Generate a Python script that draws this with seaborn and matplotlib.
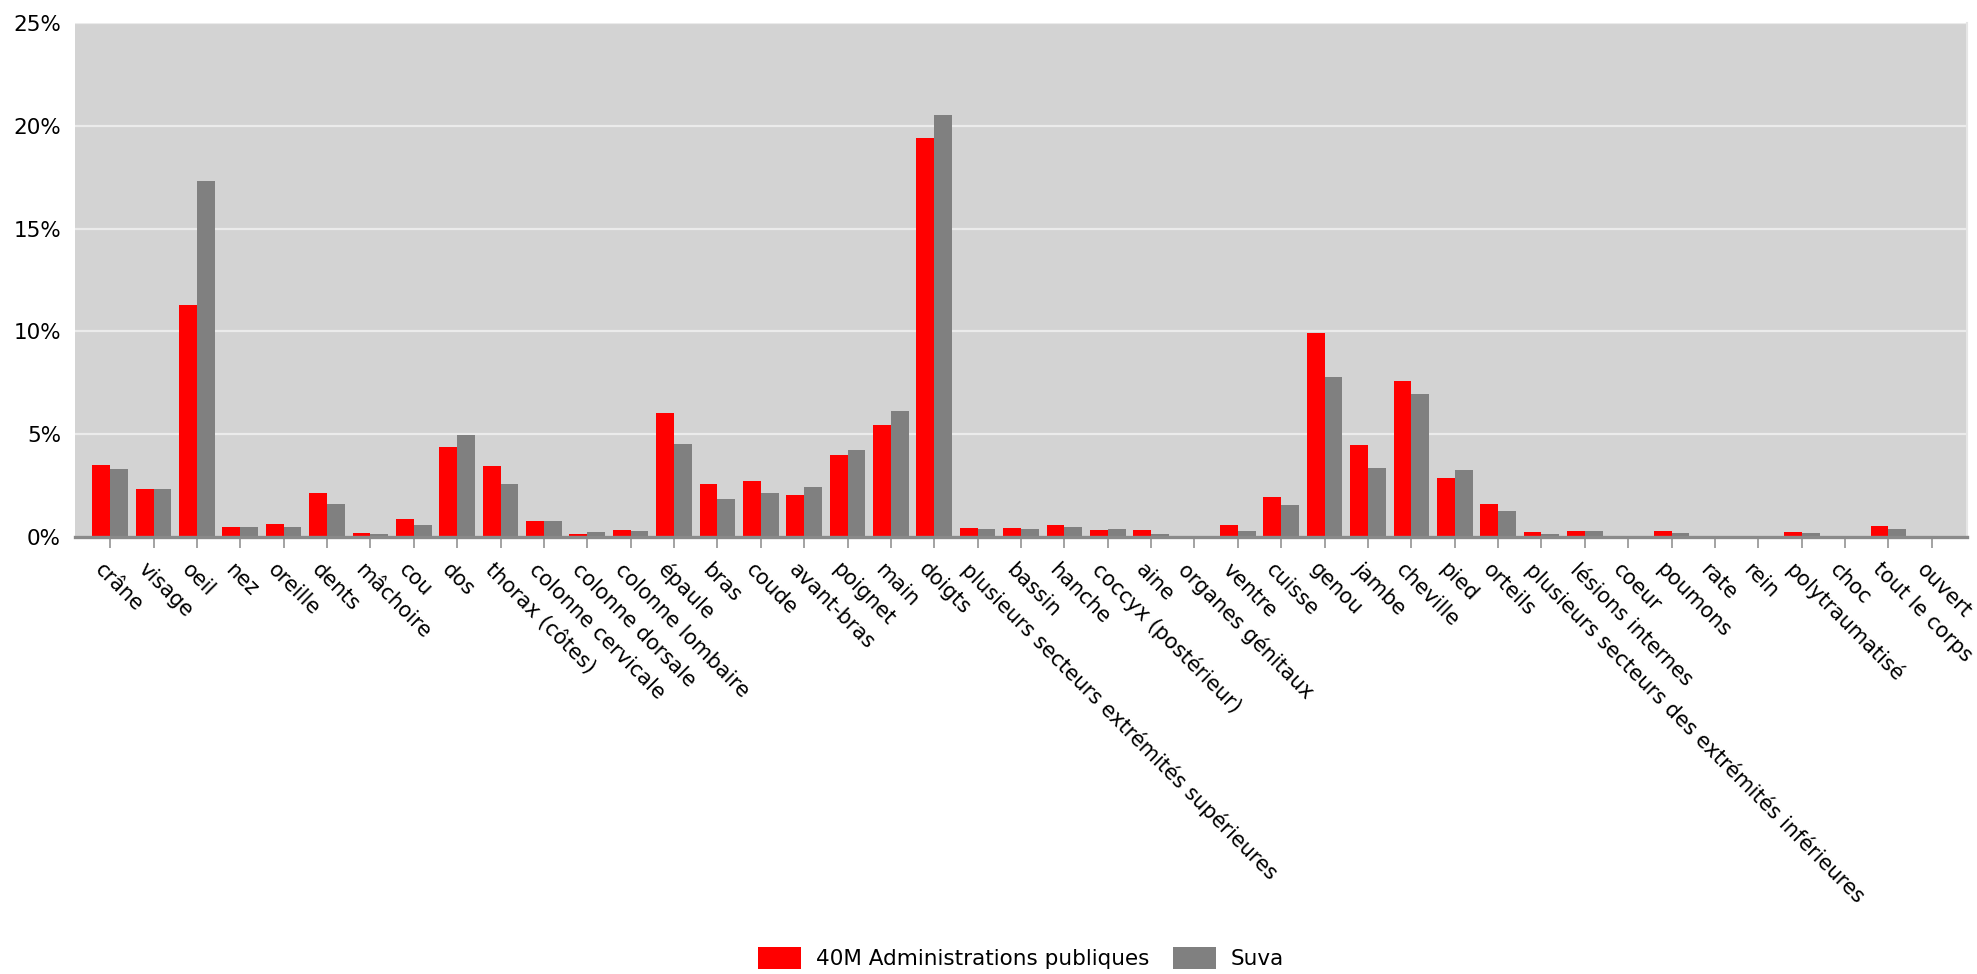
import pandas as pd
import matplotlib
matplotlib.use("Agg")
import matplotlib.pyplot as plt
import matplotlib.transforms as mtransforms
import seaborn as sns
from matplotlib.ticker import FuncFormatter

# categories (body parts)
categories = [
    "crâne", "visage", "oeil", "nez", "oreille", "dents", "mâchoire", "cou",
    "dos", "thorax (côtes)", "colonne cervicale", "colonne dorsale",
    "colonne lombaire", "épaule", "bras", "coude", "avant-bras", "poignet",
    "main", "doigts", "plusieurs secteurs extrémités supérieures", "bassin",
    "hanche", "coccyx (postérieur)", "aine", "organes génitaux", "ventre",
    "cuisse", "genou", "jambe", "cheville", "pied", "orteils",
    "plusieurs secteurs des extrémités inférieures", "lésions internes",
    "coeur", "poumons", "rate", "rein", "polytraumatisé", "choc",
    "tout le corps", "ouvert",
]

# shares in %
admin_40m = [
    3.48, 2.33, 11.27, 0.47, 0.63, 2.13, 0.19, 0.87,
    4.36, 3.47, 0.78, 0.17,
    0.35, 6.01, 2.60, 2.72, 2.02, 3.97,
    5.44, 19.39, 0.42, 0.44,
    0.56, 0.33, 0.33, 0.07, 0.57,
    1.95, 9.91, 4.46, 7.58, 2.87, 1.60,
    0.26, 0.31,
    0.0, 0.31, 0.0, 0.0, 0.23, 0.0,
    0.52, 0.0,
]
suva = [
    3.29, 2.33, 17.33, 0.51, 0.47, 1.60, 0.14, 0.56,
    4.95, 2.58, 0.80, 0.26,
    0.31, 4.53, 1.86, 2.14, 2.42, 4.22,
    6.11, 20.51, 0.37, 0.40,
    0.47, 0.38, 0.16, 0.05, 0.31,
    1.57, 7.77, 3.38, 6.97, 3.28, 1.25,
    0.17, 0.31,
    0.0, 0.21, 0.0, 0.0, 0.19, 0.07,
    0.40, 0.07,
]

series_names = ["40M Administrations publiques", "Suva"]
colors = {"40M Administrations publiques": "#ff0000", "Suva": "#808080"}

df = pd.DataFrame({
    "categorie": categories * 2,
    "valeur": admin_40m + suva,
    "serie": [series_names[0]] * len(categories) + [series_names[1]] * len(categories),
})

plt.rcParams["font.family"] = ["DejaVu Sans"]
fig = plt.figure(figsize=(19.77, 9.74), dpi=100)
ax = fig.add_axes([75 / 1977, 1 - 537 / 974, (1967 - 75) / 1977, (537 - 23) / 974])

sns.barplot(data=df, x="categorie", y="valeur", hue="serie", palette=colors,
            width=0.82, linewidth=0, saturation=1, ax=ax)

ax.set_facecolor("#d3d3d3")
ax.set_ylim(0, 25)
ax.set_xlim(-0.81, len(categories) - 1 + 0.81)
ax.set_yticks([0, 5, 10, 15, 20, 25])
ax.yaxis.set_major_formatter(FuncFormatter(lambda v, p: f"{v:.0f}%"))
ax.grid(axis="y", color="#ebebeb", linewidth=1.6)
ax.grid(axis="x", visible=False)
ax.set_axisbelow(True)

for side in ["left", "top"]:
    ax.spines[side].set_visible(False)
ax.spines["right"].set_color("#e6e6e6")
ax.spines["right"].set_linewidth(1.5)
ax.spines["bottom"].set_color("#8a8a8a")
ax.spines["bottom"].set_linewidth(2.4)

ax.tick_params(axis="y", length=0, pad=10, labelsize=15.5)
ax.tick_params(axis="x", length=8, width=1.1, color="#8a8a8a", pad=8, labelsize=15.0)
shift = mtransforms.ScaledTranslation(-5 / 100, 0, fig.dpi_scale_trans)
for lab in ax.get_xticklabels():
    lab.set_rotation(-45)
    lab.set_ha("left")
    lab.set_va("top")
    lab.set_rotation_mode("anchor")
    lab.set_transform(lab.get_transform() + shift)
ax.set_xlabel("")
ax.set_ylabel("")

handles, labels = ax.get_legend_handles_labels()
ax.legend(handles, labels, loc="center", bbox_to_anchor=(0.5, -0.819), ncol=2,
          frameon=False, fontsize=15.5, handlelength=2.0, handleheight=1.25,
          handletextpad=0.7, columnspacing=1.1)

fig.savefig("out.png", dpi=100)
